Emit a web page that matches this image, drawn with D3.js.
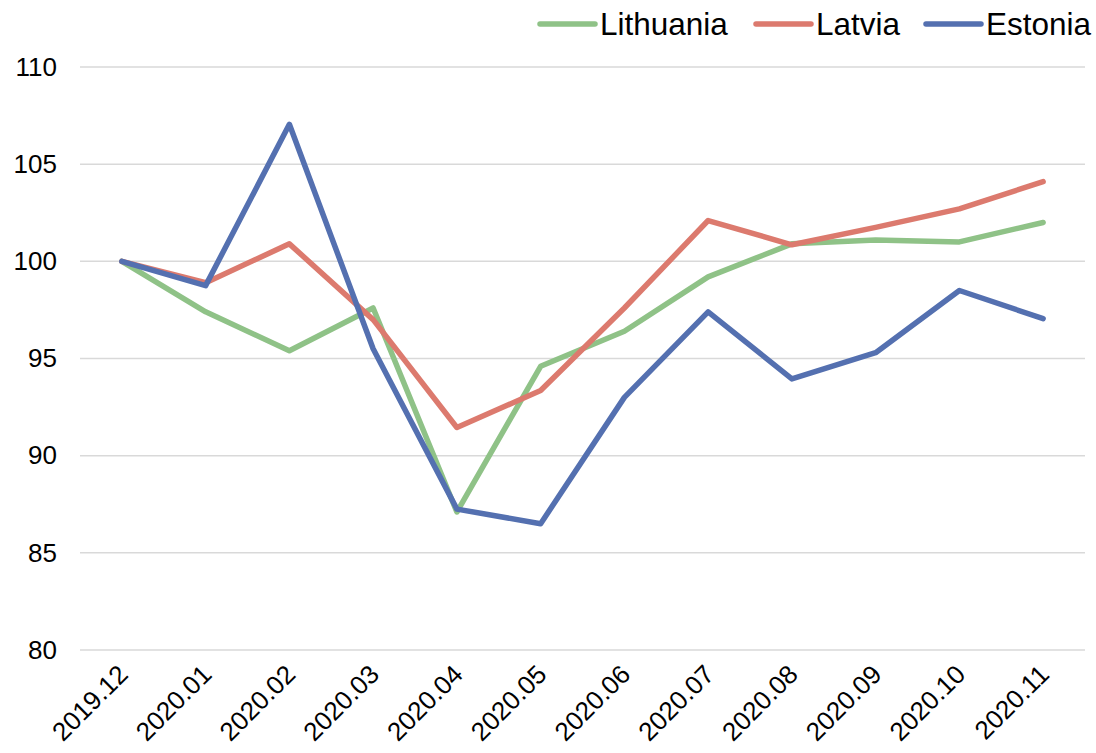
<!DOCTYPE html>
<html>
<head>
<meta charset="utf-8">
<script src="https://cdn.jsdelivr.net/npm/d3@7"></script>
<style>
  body { margin: 0; background: #fff; }
  svg { display: block; font-family: "Liberation Sans", Arial, sans-serif; }
</style>
</head>
<body>
<svg id="chart"></svg>
<script>
const months = ["2019.12", "2020.01", "2020.02", "2020.03", "2020.04", "2020.05",
    "2020.06", "2020.07", "2020.08", "2020.09", "2020.10", "2020.11"];
const lithuania = [100, 97.4, 95.4, 97.6, 87.1, 94.6, 96.4, 99.2, 100.9, 101.1, 101.0, 102.0];
const latvia = [100, 98.9, 100.9, 97.0, 91.45, 93.35, 97.6, 102.1, 100.85, 101.75, 102.7, 104.1];
const estonia = [100, 98.75, 107.05, 95.5, 87.25, 86.5, 93.0, 97.4, 93.95, 95.3, 98.5, 97.05];
const yTicks = [80, 85, 90, 95, 100, 105, 110];

const series = [
    {name: "Lithuania", values: lithuania, color: "#8fc287"},
    {name: "Latvia", values: latvia, color: "#dc7a6e"},
    {name: "Estonia", values: estonia, color: "#5470b0"}
];

const width = 1096; // pixels
const height = 753; // pixels
const margin = {top: 67, right: 11, bottom: 103, left: 80};

const x = d3.scalePoint(months, [margin.left, width - margin.right]).padding(0.5);
const y = d3.scaleLinear([80, 110], [height - margin.bottom, margin.top]);

const svg = d3.select("#chart").attr("width", width).attr("height", height)
    .attr("viewBox", [0, 0, width, height]);

// horizontal gridlines
svg.append("g")
    .attr("stroke", "#d9d9d9")
    .attr("stroke-width", 1.5)
    .selectAll("line")
    .data(yTicks)
    .join("line")
    .attr("x1", margin.left)
    .attr("x2", width - margin.right)
    .attr("y1", d => y(d))
    .attr("y2", d => y(d));

const yAxis = g => g
    .attr("transform", `translate(${margin.left - 23},0)`)
    .call(d3.axisLeft(y).tickValues(yTicks).tickSize(0).tickPadding(0))
    .call(g => g.select(".domain").remove())
    .call(g => g.selectAll("text")
        .attr("font-size", 26)
        .attr("fill", "#000")
        .attr("font-family", "Liberation Sans, Arial, sans-serif"));

const xAxis = g => g
    .attr("transform", `translate(0,${height - margin.bottom})`)
    .call(d3.axisBottom(x).tickSize(0).tickPadding(0))
    .call(g => g.select(".domain").remove())
    .call(g => g.selectAll("text")
        .attr("font-size", 26)
        .attr("fill", "#000")
        .attr("font-family", "Liberation Sans, Arial, sans-serif")
        .attr("text-anchor", "end")
        .attr("dy", null)
        .attr("y", null)
        .attr("transform", "translate(7,26) rotate(-45)"));

svg.append("g").call(yAxis);
svg.append("g").call(xAxis);

const line = d3.line()
    .x((d, i) => x(months[i]))
    .y(d => y(d));

svg.append("g")
    .attr("fill", "none")
    .attr("stroke-width", 5.5)
    .attr("stroke-linejoin", "round")
    .attr("stroke-linecap", "round")
    .selectAll("path")
    .data(series)
    .join("path")
    .attr("stroke", d => d.color)
    .attr("d", d => line(d.values));

// legend
const legendX = [540, 756, 926];
const legend = svg.append("g")
    .selectAll("g")
    .data(series)
    .join("g")
    .attr("transform", (d, i) => `translate(${legendX[i]},24)`);

legend.append("line")
    .attr("x1", 0).attr("x2", 55)
    .attr("stroke", d => d.color)
    .attr("stroke-width", 5.5)
    .attr("stroke-linecap", "round");

legend.append("text")
    .attr("x", 60)
    .attr("dy", "0.36em")
    .attr("font-size", 31.5)
    .attr("fill", "#000")
    .text(d => d.name);
</script>
</body>
</html>
